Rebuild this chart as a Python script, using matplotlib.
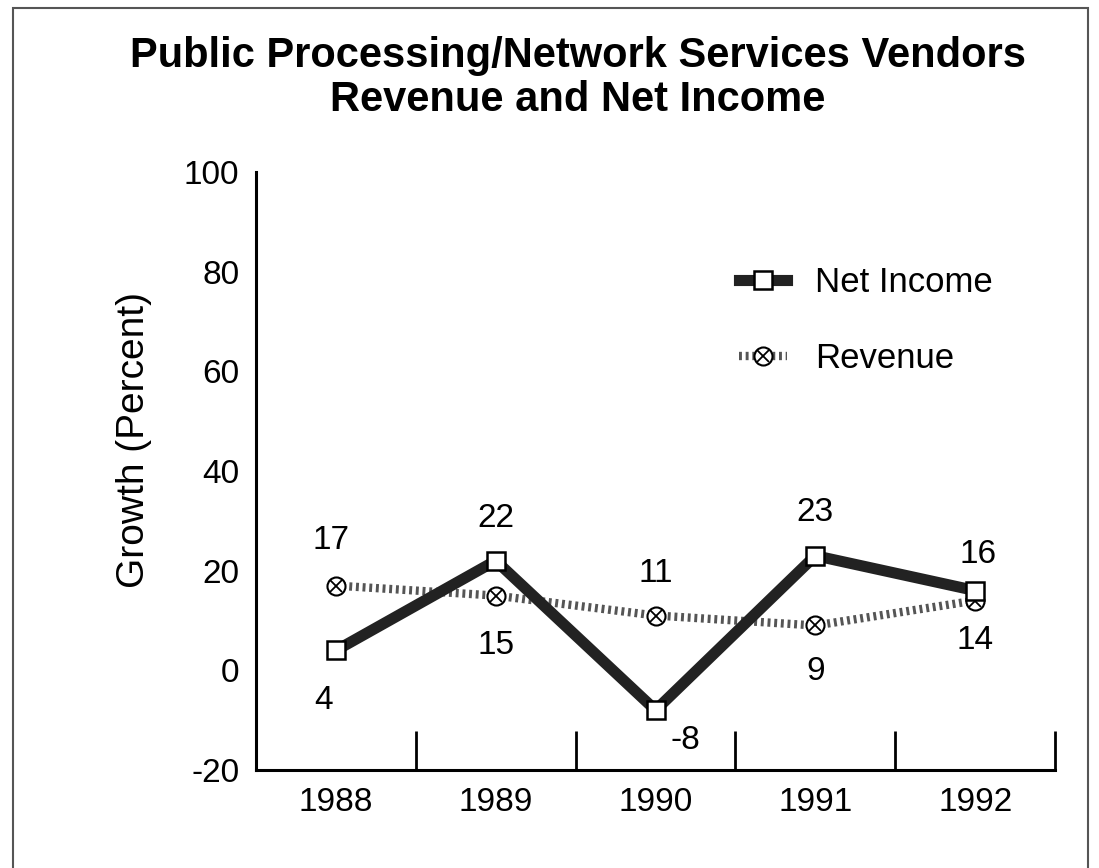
import matplotlib
matplotlib.use("Agg")
import matplotlib.pyplot as plt
from matplotlib.patches import Rectangle
from matplotlib.legend_handler import HandlerTuple

plt.rcParams['font.family'] = ['Liberation Sans', 'DejaVu Sans']
plt.rcParams['axes.unicode_minus'] = False

years = ['1988', '1989', '1990', '1991', '1992']
net_income = [4, 22, -8, 23, 16]
revenue = [17, 15, 11, 9, 14]
# label offsets in pixels (dx, dy)
ni_off = [(-12, -50), (0, 42), (30, -30), (0, 43), (3, 36)]
rev_off = [(-5, 45), (0, -50), (0, 42), (0, -46), (0, -40)]

fig = plt.figure(figsize=(10.99, 8.68), dpi=100)
ax = fig.add_axes([0.233, 0.1129, 0.727, 0.689])

x = list(range(len(years)))

# revenue: hatched thin line with circled-x markers
rv_line, = ax.plot(x, revenue, color='#555555', lw=6, linestyle=(0, (0.35, 0.45)), zorder=2)
rv_o, = ax.plot(x, revenue, linestyle='none', marker='o', ms=13, mfc='white',
                mec='black', mew=1.5, zorder=3)
rv_x, = ax.plot(x, revenue, linestyle='none', marker='x', ms=8, mec='black',
                mew=1.3, zorder=4)

# net income: thick black line with square markers
ni_line, = ax.plot(x, net_income, color='#222222', lw=8, solid_joinstyle='miter',
                   zorder=5)
ni_m, = ax.plot(x, net_income, linestyle='none', marker='s', ms=13, mfc='white',
                mec='black', mew=1.8, zorder=6)

for i in x:
    ax.annotate(str(net_income[i]), (i, net_income[i]), xytext=ni_off[i],
                textcoords='offset pixels', ha='center', va='center', fontsize=24)
    ax.annotate(str(revenue[i]), (i, revenue[i]), xytext=rev_off[i],
                textcoords='offset pixels', ha='center', va='center', fontsize=24)

ax.set_xlim(-0.5, 4.5)
ax.set_ylim(-20, 100)
ax.set_yticks([-20, 0, 20, 40, 60, 80, 100])
ax.set_xticks(x)
ax.set_xticklabels(years)
ax.set_xticks([0.5, 1.5, 2.5, 3.5, 4.5], minor=True)
ax.tick_params(axis='x', which='major', length=0, labelsize=24, pad=12)
ax.tick_params(axis='x', which='minor', direction='in', length=28, width=2)
ax.tick_params(axis='y', length=0, labelsize=24, pad=12)
ax.spines['top'].set_visible(False)
ax.spines['right'].set_visible(False)
ax.spines['left'].set_linewidth(2.2)
ax.spines['bottom'].set_linewidth(2.2)
ax.set_ylabel('Growth (Percent)', fontsize=28)
ax.yaxis.set_label_coords(-0.13, 0.552)

leg = ax.legend([(ni_line, ni_m), (rv_line, rv_o, rv_x)], ['Net Income', 'Revenue'],
                handler_map={tuple: HandlerTuple(ndivide=1, pad=0)},
                loc='upper left', bbox_to_anchor=(0.565, 0.895), frameon=False,
                fontsize=25, handlelength=1.4, labelspacing=1.25, handletextpad=0.8)

fig.text(0.526, 0.91, 'Public Processing/Network Services Vendors\nRevenue and Net Income',
         ha='center', va='center', fontsize=30, fontweight='bold', linespacing=1.15)

fig.patches.append(Rectangle((13 / 1099, -0.05), 1075 / 1099, 1.05 - 8 / 868,
                             transform=fig.transFigure, fill=False, ec='#555555', lw=1.5))

fig.savefig('out.png', dpi=100)
